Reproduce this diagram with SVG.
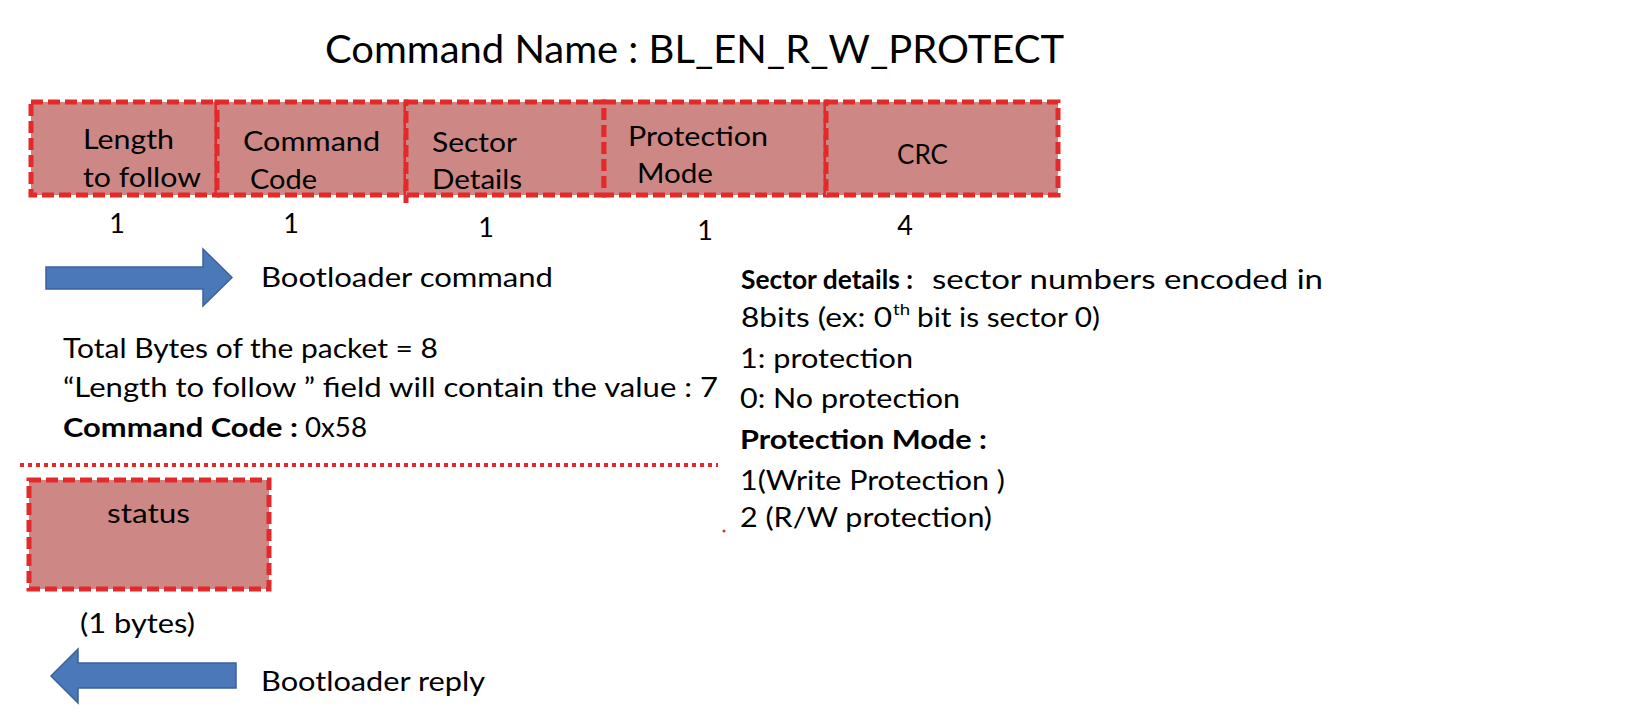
<svg xmlns="http://www.w3.org/2000/svg" width="1636" height="726" viewBox="0 0 1636 726">
<style>
text { font-family: Lato, "Open Sans", "Liberation Sans", sans-serif; fill: #000; }
.t { font-size: 26px; }
.b { font-size: 27px; font-weight: bold; }
.title { font-size: 39px; }
.num { font-size: 27px; text-anchor: middle; }
.cell { fill: #cd8886; stroke: #e4292a; stroke-width: 5; stroke-dasharray: 12 5; }
.arrow { fill: #4b78b8; stroke: #3a629e; stroke-width: 1.5; }
.sep { stroke: #e4292a; stroke-width: 4; stroke-dasharray: 4 4; fill: none; }
</style>
<rect x="0" y="0" width="1636" height="726" fill="#ffffff"/>

<g id="title">
<text class="title" x="325" y="63" textLength="739" lengthAdjust="spacingAndGlyphs">Command Name : BL_EN_R_W_PROTECT</text>
</g>

<g id="cell-length">
<rect class="cell" x="31" y="102" width="186" height="93"/>
<text class="t" x="83" y="149" textLength="91" lengthAdjust="spacingAndGlyphs">Length</text>
<text class="t" x="83" y="187" textLength="118" lengthAdjust="spacingAndGlyphs">to follow</text>
<text class="num" x="117" y="233">1</text>
</g>
<g id="cell-command">
<rect class="cell" x="217" y="102" width="189" height="93"/>
<text class="t" x="243" y="151" textLength="137" lengthAdjust="spacingAndGlyphs">Command</text>
<text class="t" x="250" y="189" textLength="67" lengthAdjust="spacingAndGlyphs">Code</text>
<text class="num" x="291" y="233">1</text>
</g>
<g id="cell-sector">
<rect class="cell" x="406" y="102" width="198" height="93"/>
<line x1="406" y1="195" x2="406" y2="203" stroke="#e4292a" stroke-width="5"/>
<text class="t" x="432" y="152" textLength="85" lengthAdjust="spacingAndGlyphs">Sector</text>
<text class="t" x="432" y="189" textLength="90" lengthAdjust="spacingAndGlyphs">Details</text>
<text class="num" x="486" y="237">1</text>
</g>
<g id="cell-protection">
<rect class="cell" x="604" y="102" width="222" height="93"/>
<text class="t" x="628" y="146" textLength="140" lengthAdjust="spacingAndGlyphs">Protection</text>
<text class="t" x="637" y="183" textLength="76" lengthAdjust="spacingAndGlyphs">Mode</text>
<text class="num" x="705" y="240">1</text>
</g>
<g id="cell-crc">
<rect class="cell" x="826" y="102" width="232" height="93"/>
<text class="t" x="897" y="164" textLength="51" lengthAdjust="spacingAndGlyphs">CRC</text>
<text class="num" x="905" y="235">4</text>
</g>

<g id="connectors">
<polygon class="arrow" points="46,267 203,267 203,249 232,277.5 203,306 203,289 46,289"/>
<polygon class="arrow" points="236,663 78,663 78,649 51,676 78,703 78,688 236,688"/>
<line class="sep" x1="20" y1="465" x2="718" y2="465"/>
</g>

<g id="label-command">
<text class="t" x="261" y="287" textLength="292" lengthAdjust="spacingAndGlyphs">Bootloader command</text>
</g>

<g id="notes-left">
<text class="t" x="63" y="358" textLength="375" lengthAdjust="spacingAndGlyphs">Total Bytes of the packet = 8</text>
<text class="t" x="63" y="397" textLength="655" lengthAdjust="spacingAndGlyphs">“Length to follow ” field will contain the value : 7</text>
<text class="b" x="63" y="437" textLength="235" lengthAdjust="spacingAndGlyphs">Command Code :</text>
<text class="t" x="305" y="437" textLength="62" lengthAdjust="spacingAndGlyphs">0x58</text>
</g>

<g id="notes-right">
<text class="b" x="741" y="289" textLength="172" lengthAdjust="spacingAndGlyphs">Sector details :</text>
<text class="t" x="932" y="289" textLength="391" lengthAdjust="spacingAndGlyphs">sector numbers encoded in</text>
<text class="t" x="741" y="327" textLength="151" lengthAdjust="spacingAndGlyphs">8bits (ex: 0</text>
<text x="893" y="315" font-size="16" textLength="17" lengthAdjust="spacingAndGlyphs">th</text>
<text class="t" x="917" y="327" textLength="183" lengthAdjust="spacingAndGlyphs">bit is sector 0)</text>
<text class="t" x="740" y="368" textLength="173" lengthAdjust="spacingAndGlyphs">1: protection</text>
<text class="t" x="740" y="408" textLength="220" lengthAdjust="spacingAndGlyphs">0: No protection</text>
<text class="b" x="740" y="449" textLength="247" lengthAdjust="spacingAndGlyphs">Protection Mode :</text>
<text class="t" x="740" y="490" textLength="265" lengthAdjust="spacingAndGlyphs">1(Write Protection )</text>
<text class="t" x="740" y="527" textLength="252" lengthAdjust="spacingAndGlyphs">2 (R/W protection)</text>
<circle cx="724" cy="531" r="1.5" fill="#e4292a"/>
</g>

<g id="status">
<rect class="cell" x="29" y="480" width="240" height="109"/>
<text class="t" x="107" y="523" textLength="83" lengthAdjust="spacingAndGlyphs">status</text>
<text class="t" x="80" y="633" textLength="115" lengthAdjust="spacingAndGlyphs">(1 bytes)</text>
</g>

<g id="label-reply">
<text class="t" x="261" y="691" textLength="224" lengthAdjust="spacingAndGlyphs">Bootloader reply</text>
</g>
</svg>
